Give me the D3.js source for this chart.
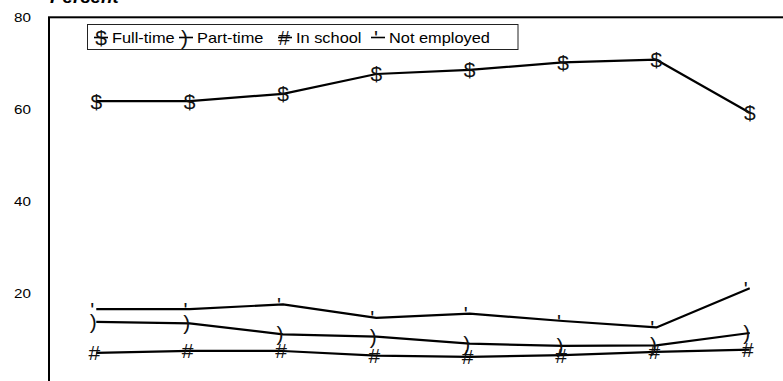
<!DOCTYPE html>
<html>
<head>
<meta charset="utf-8">
<script src="https://cdn.jsdelivr.net/npm/d3@7"></script>
<style>
  html, body { margin: 0; padding: 0; background: #fff; }
  svg { display: block; font-family: "Liberation Sans", Arial, sans-serif; }
</style>
</head>
<body>
<svg id="chart" width="783" height="381"></svg>
<script>
// Survey periods along the horizontal axis
const categories = ["1", "2", "3", "4", "5", "6", "7", "8"];

// Share of people in each status, percent
const fullTime    = [61.8, 61.8, 63.4, 67.7, 68.6, 70.2, 70.8, 59.3];
const partTime    = [13.9, 13.6, 11.2, 10.7,  9.2,  8.7,  8.8, 11.5];
const inSchool    = [ 7.2,  7.6,  7.6,  6.6,  6.3,  6.7,  7.4,  7.9];
const notEmployed = [16.7, 16.7, 17.7, 14.8, 15.7, 14.1, 12.7, 21.2];

const seriesNames   = ["Full-time", "Part-time", "In school", "Not employed"];
const seriesSymbols = ["$", ")", "#", "'"];
const yTicks = [0, 20, 40, 60, 80];
const yTitle = "Percent";

const seriesValues = [fullTime, partTime, inSchool, notEmployed];
const series = seriesNames.map((name, i) => ({
  name, symbol: seriesSymbols[i], values: seriesValues[i]
}));

const svg = d3.select("#chart");
const plot = { left: 49, top: 17.3, right: 796.4, bottom: 386 };

const x = d3.scaleBand().domain(categories).range([plot.left + 0.6, plot.right]);
const y = d3.scaleLinear().domain([0, 80]).range([plot.bottom, plot.top]);
const cx = c => x(c) + x.bandwidth() / 2;

const stretch = 1.17;   // text is set slightly wide

// Title
svg.append("text")
  .attr("transform", `translate(50,3) scale(${stretch},1)`)
  .attr("font-size", 16).attr("font-weight", "bold").attr("font-style", "italic")
  .attr("fill", "#000")
  .text(yTitle);

// Plot frame
svg.append("rect")
  .attr("x", plot.left).attr("y", plot.top)
  .attr("width", plot.right - plot.left).attr("height", plot.bottom - plot.top)
  .attr("fill", "none").attr("stroke", "#000").attr("stroke-width", 2);

// Y axis labels
const yAxis = svg.append("g")
  .attr("transform", `translate(${plot.left},0)`)
  .call(d3.axisLeft(y).tickValues(yTicks).tickSize(0).tickPadding(18));
yAxis.select(".domain").remove();
yAxis.selectAll("text")
  .attr("font-size", 13).attr("fill", "#000")
  .attr("font-family", "Liberation Sans, Arial, sans-serif")
  .attr("x", null)
  .attr("transform", `translate(-18,0) scale(${stretch},1)`);

// Lines
const line = d3.line()
  .x((d, i) => cx(categories[i]))
  .y(d => y(d));

const g = svg.append("g");
series.forEach(s => {
  g.append("path")
    .datum(s.values)
    .attr("d", line)
    .attr("fill", "none")
    .attr("stroke", "#000")
    .attr("stroke-width", 2.2)
    .attr("stroke-linejoin", "round");
});

// Symbol markers at each point
const markerSize = 21;
const markerDx = { "$": 0, ")": -3, "#": -2, "'": -4 };
const markerDy = { "$": 7.5, ")": 7, "#": 7.5, "'": 7.5 };
series.forEach(s => {
  g.selectAll(null)
    .data(s.values)
    .join("text")
    .attr("x", (d, i) => cx(categories[i]) + markerDx[s.symbol])
    .attr("y", d => y(d) + markerDy[s.symbol])
    .attr("text-anchor", "middle")
    .attr("font-size", markerSize)
    .attr("fill", "#111")
    .text(s.symbol);
});

// Legend
const legend = svg.append("g");
legend.append("rect")
  .attr("x", 87.5).attr("y", 24.5).attr("width", 430.5).attr("height", 25)
  .attr("fill", "#fff").attr("stroke", "#222").attr("stroke-width", 1);

const legendX = [101, 186, 285, 378];
series.forEach((s, i) => {
  const lx = legendX[i], ly = 37.5;
  legend.append("line")
    .attr("x1", lx - 7).attr("x2", lx + 7)
    .attr("y1", ly).attr("y2", ly)
    .attr("stroke", "#000").attr("stroke-width", 1.6);
  legend.append("text")
    .attr("x", lx + markerDx[s.symbol] * 0.5)
    .attr("y", ly + markerDy[s.symbol])
    .attr("text-anchor", "middle").attr("font-size", markerSize)
    .attr("fill", "#111")
    .text(s.symbol);
  legend.append("text")
    .attr("transform", `translate(${lx + 11},${ly + 5}) scale(${stretch},1)`)
    .attr("font-size", 14)
    .text(s.name);
});
</script>
</body>
</html>
